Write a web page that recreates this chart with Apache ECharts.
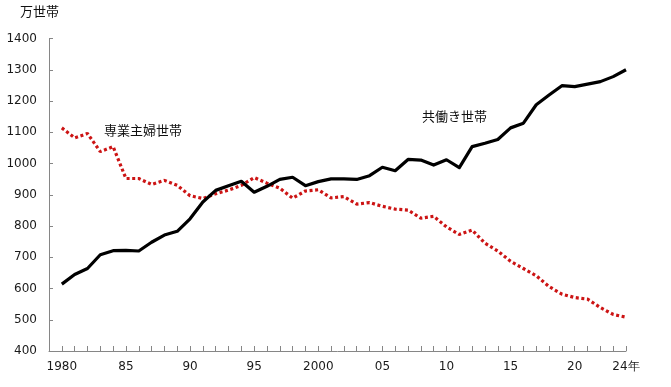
<!DOCTYPE html>
<html>
<head>
<meta charset="utf-8">
<script src="https://cdn.jsdelivr.net/npm/echarts@6/dist/echarts.min.js"></script>
<style>
html,body{margin:0;padding:0;background:#fff;}
#c{width:671px;height:387px;}
</style>
</head>
<body>
<div id="c"></div>
<script>
const years = [1980,1981,1982,1983,1984,1985,1986,1987,1988,1989,1990,1991,1992,1993,1994,1995,1996,1997,1998,1999,2000,2001,2002,2003,2004,2005,2006,2007,2008,2009,2010,2011,2012,2013,2014,2015,2016,2017,2018,2019,2020,2021,2022,2023,2024];
const dualIncome = [614,645,664,708,721,722,720,748,771,783,823,877,914,929,943,908,927,949,956,929,942,951,951,949,961,988,977,1013,1011,995,1012,987,1054,1065,1077,1114,1129,1188,1219,1249,1246,1254,1262,1278,1300];
const housewife = [1114,1082,1096,1038,1054,952,952,933,946,930,897,888,903,915,930,955,937,921,889,912,916,890,894,870,875,863,854,851,825,831,797,773,787,745,720,687,664,641,606,582,571,566,539,517,508];
const tickYears = [1980,1985,1990,1995,2000,2005,2010,2015,2020,2024];
const tickLabels = ['1980','85','90','95','2000','05','10','15','20','24年'];
const yTicks = [400,500,600,700,800,900,1000,1100,1200,1300,1400];
const seriesNames = ['共働き世帯','専業主婦世帯'];
const unitLabel = '万世帯';

const chart = echarts.init(document.getElementById('c'), null, {renderer:'canvas'});
const labelFont = 'DejaVu Sans';
const cjk = '"Noto Sans CJK JP", sans-serif';
chart.setOption({
  animation:false,
  grid:{left:49,right:45,top:38.5,bottom:36,containLabel:false},
  xAxis:{
    type:'value', min:1979, max:2024, interval:1,
    axisLine:{show:true,onZero:false,lineStyle:{color:'#868686',width:1}},
    axisTick:{show:true,inside:true,length:5,lineStyle:{color:'#868686'}},
    splitLine:{show:false},
    axisLabel:{
      margin:10, color:'#1a1a1a', fontFamily:labelFont, fontSize:12,
      showMinLabel:true, showMaxLabel:true,
      formatter:function(v){const i=tickYears.indexOf(Math.round(v));return i>=0?tickLabels[i]:'';}
    }
  },
  yAxis:{
    type:'value', min:yTicks[0], max:yTicks[yTicks.length-1], interval:100,
    axisLine:{show:true,lineStyle:{color:'#868686',width:1}},
    axisTick:{show:true,inside:true,length:4,lineStyle:{color:'#868686'}},
    splitLine:{show:false},
    axisLabel:{margin:12,color:'#1a1a1a',fontFamily:labelFont,fontSize:12,
      formatter:function(v){return String(v);}}
  },
  series:[
    {name:seriesNames[0],type:'line',showSymbol:false,symbol:'none',
     data:years.map((y,i)=>[y,dualIncome[i]]),
     lineStyle:{color:'#000',width:3.2,join:'round'},z:3},
    {name:seriesNames[1],type:'line',showSymbol:false,symbol:'none',
     data:years.map((y,i)=>[y,housewife[i]]),
     lineStyle:{color:'#cc1414',width:3.2,type:[3,2.6],cap:'butt'},z:2}
  ],
  graphic:[
    {type:'text',left:20,top:5,style:{text:unitLabel,font:'13px '+cjk,fill:'#111'}},
    {type:'text',left:104,top:124,style:{text:seriesNames[1],font:'13px '+cjk,fill:'#111'}},
    {type:'text',left:422,top:110,style:{text:seriesNames[0],font:'13px '+cjk,fill:'#111'}}
  ]
});
</script>
</body>
</html>
